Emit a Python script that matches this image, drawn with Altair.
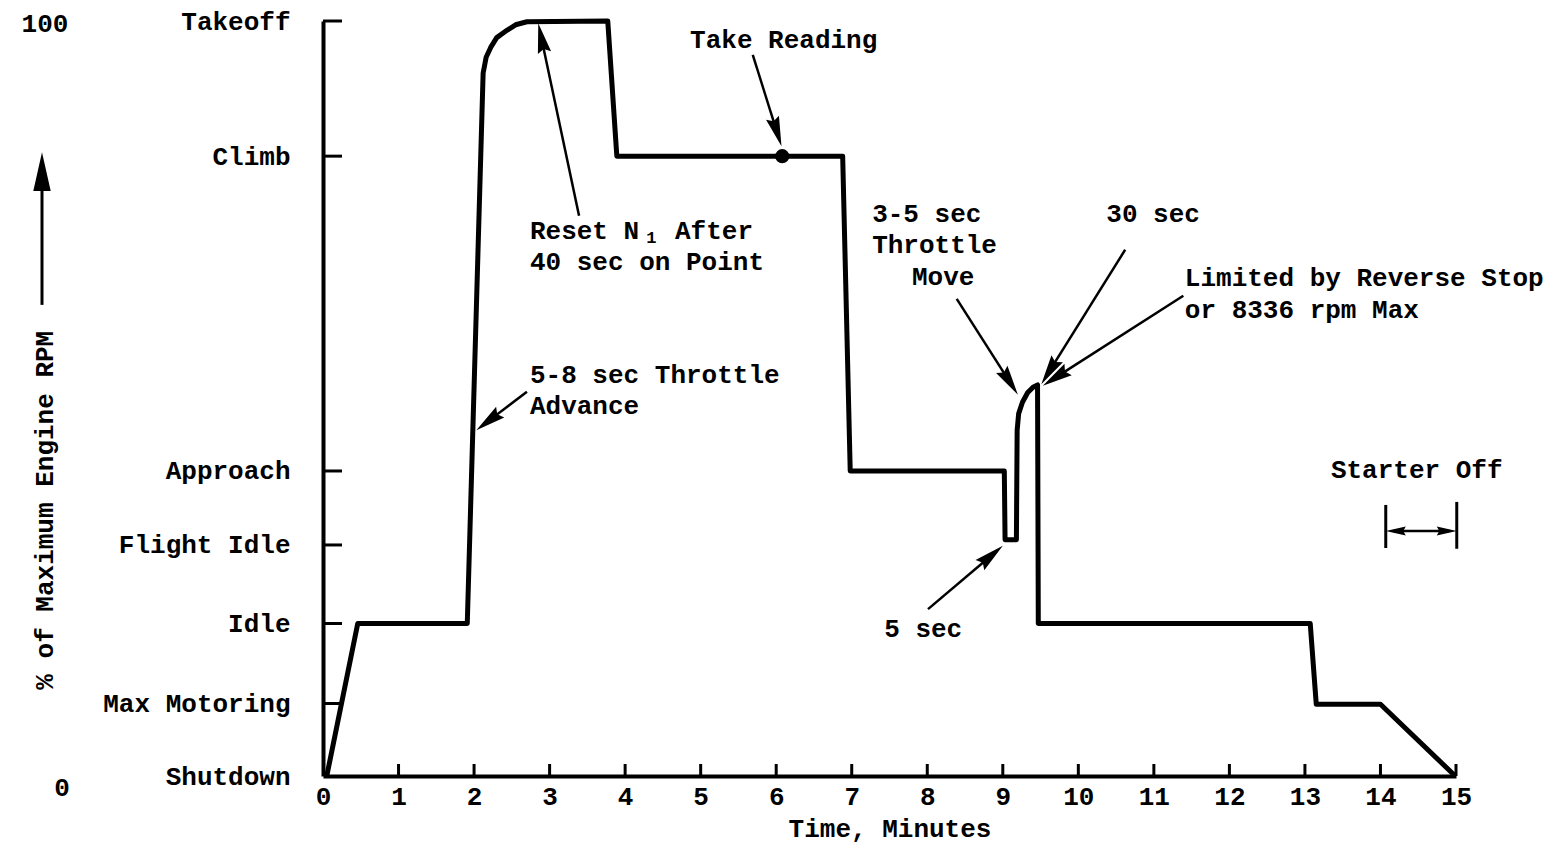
import math
import altair as alt
import pandas as pd

# ---------------- layout constants ----------------
W, H = 1133, 755
T_MAX, V_MAX = 15, 100
PX_T = W / T_MAX
PX_V = H / V_MAX
FONT = "Liberation Mono"
FS = 26

# ---------------- data ----------------
level_names = ["Shutdown", "Max Motoring", "Idle", "Flight Idle", "Approach", "Climb", "Takeoff"]
level_values = [0, 9.6, 20.2, 30.6, 40.4, 82.1, 100]

curve_t = [0.05, 0.46, 1.91, 2.12, 2.16, 2.22, 2.30, 2.44, 2.55, 2.70, 3.77, 3.89,
           6.88, 6.98, 9.02, 9.03, 9.18, 9.19, 9.21, 9.26, 9.33, 9.40, 9.46, 9.47,
           13.07, 13.15, 14.00, 14.99]
curve_v = [0, 20.2, 20.2, 93.1, 95.2, 96.5, 97.8, 98.8, 99.5, 99.9, 100, 82.1,
           82.1, 40.4, 40.4, 31.3, 31.3, 45.8, 48.0, 49.5, 50.8, 51.5, 51.8, 20.2,
           20.2, 9.5, 9.5, 0]

x_ticks = list(range(0, 16))

reading_t = [6.08]
reading_v = [82.1]

# left aligned annotation text
left_text = ["Take Reading", "Reset N", "After", "40 sec on Point", "5-8 sec Throttle", "Advance",
             "3-5 sec", "Throttle", "Limited by Reverse Stop", "or 8336 rpm Max", "5 sec"]
left_t = [4.86, 2.74, 4.66, 2.74, 2.74, 2.74, 7.27, 7.27, 11.41, 11.41, 7.43]
left_v = [97.5, 72.2, 72.2, 68.1, 53.1, 49.0, 74.4, 70.3, 66.0, 61.7, 19.5]

center_text = ["Move", "30 sec", "Starter Off"]
center_t = [8.21, 10.99, 14.48]
center_v = [66.1, 74.4, 40.5]

sub_text = ["1"]
sub_t = [4.28]
sub_v = [71.3]

# annotation arrows: start -> tip
arrow_t1 = [5.69, 3.39, 2.70, 8.39, 10.62, 11.39, 8.01]
arrow_v1 = [95.5, 74.2, 50.9, 63.2, 69.7, 63.6, 22.1]
arrow_t2 = [6.07, 2.85, 2.03, 9.20, 9.51, 9.53, 9.00]
arrow_v2 = [83.4, 99.7, 45.8, 50.5, 51.9, 51.7, 30.5]

# starter-off interval
starter_t = [14.07, 15.01]
starter_lo = [30.2, 30.1]
starter_hi = [35.9, 36.3]
starter_v = [32.45]

# ---------------- derived tables ----------------
curve_df = pd.DataFrame({"t": curve_t, "v": curve_v, "i": range(len(curve_t))})
levels_df = pd.DataFrame({"v": level_values, "name": level_names})
ticks_df = pd.DataFrame({"t": x_ticks[1:]})
reading_df = pd.DataFrame({"t": reading_t, "v": reading_v})
left_df = pd.DataFrame({"t": left_t, "v": left_v, "txt": left_text})
center_df = pd.DataFrame({"t": center_t, "v": center_v, "txt": center_text})
sub_df = pd.DataFrame({"t": sub_t, "v": sub_v, "txt": sub_text})

HEAD = "M0,0L-0.45,2L0,1.75L0.45,2Z"
HEAD_LEN = 30

rows = []
for t1, v1, t2, v2 in zip(arrow_t1, arrow_v1, arrow_t2, arrow_v2):
    dx = (t2 - t1) * PX_T
    dy = (v2 - v1) * PX_V
    L = math.hypot(dx, dy)
    ang = math.degrees(math.atan2(dx, dy)) % 360
    back = 0.5 * HEAD_LEN / L
    rows.append({"t1": t1, "v1": v1, "t2": t2, "v2": v2,
                 "te": t2 - (t2 - t1) * back, "ve": v2 - (v2 - v1) * back, "ang": ang})
arrows_df = pd.DataFrame(rows)

starter_bars_df = pd.DataFrame({"t": starter_t, "lo": starter_lo, "hi": starter_hi})
starter_line_df = pd.DataFrame({"t1": [starter_t[0] + 0.1], "t2": [starter_t[1] - 0.1], "v": starter_v})
starter_heads_df = pd.DataFrame({"t": starter_t, "v": starter_v * 2, "ang": [270, 90]})

label_expr = " : ".join(
    [f"datum.value == {v} ? '{n}'" for v, n in zip(level_values, level_names)]
) + " : ''"

xs = alt.Scale(domain=[0, T_MAX], nice=False, zero=False)
ys = alt.Scale(domain=[0, V_MAX], nice=False, zero=False)

base_axis = dict(domainColor="black", domainWidth=4, ticks=False, grid=False, labelLimit=500,
                 labelFont=FONT, labelFontSize=FS, labelFontWeight="bold", labelColor="black")

curve = alt.Chart(curve_df).mark_line(color="black", strokeWidth=5, strokeJoin="round").encode(
    x=alt.X("t:Q", scale=xs,
            axis=alt.Axis(values=x_ticks, format="d", labelPadding=7, title="Time, Minutes",
                          titleFont=FONT, titleFontSize=FS, titleFontWeight="bold",
                          titleColor="black", titlePadding=6, labelFlush=False, **base_axis)),
    y=alt.Y("v:Q", scale=ys,
            axis=alt.Axis(values=level_values, labelExpr=label_expr, labelPadding=33,
                          title=None, labelFlush=False, **base_axis)),
    order="i:O",
)

ytick_marks = alt.Chart(levels_df[levels_df.v > 0]).mark_rule(color="black", strokeWidth=3).encode(
    x=alt.value(0), x2=alt.value(19), y=alt.Y("v:Q", scale=ys)
)
xtick_marks = alt.Chart(ticks_df).mark_rule(color="black", strokeWidth=3).encode(
    x=alt.X("t:Q", scale=xs), y=alt.value(H), y2=alt.value(H - 12)
)

dot = alt.Chart(reading_df).mark_circle(color="black", size=200, opacity=1).encode(
    x=alt.X("t:Q", scale=xs), y=alt.Y("v:Q", scale=ys)
)

txt_kw = dict(font=FONT, fontSize=FS, fontWeight="bold", color="black", baseline="middle")
left_layer = alt.Chart(left_df).mark_text(align="left", **txt_kw).encode(
    x=alt.X("t:Q", scale=xs), y=alt.Y("v:Q", scale=ys), text="txt:N")
center_layer = alt.Chart(center_df).mark_text(align="center", **txt_kw).encode(
    x=alt.X("t:Q", scale=xs), y=alt.Y("v:Q", scale=ys), text="txt:N")
sub_layer = alt.Chart(sub_df).mark_text(align="left", font=FONT, fontSize=17, fontWeight="bold",
                                        color="black", baseline="middle").encode(
    x=alt.X("t:Q", scale=xs), y=alt.Y("v:Q", scale=ys), text="txt:N")

shafts = alt.Chart(arrows_df).mark_rule(color="black", strokeWidth=2.5).encode(
    x=alt.X("t1:Q", scale=xs), y=alt.Y("v1:Q", scale=ys), x2="te:Q", y2="ve:Q")
heads = alt.Chart(arrows_df).mark_point(shape=HEAD, filled=True, size=900, color="black",
                                        opacity=1, strokeWidth=0).encode(
    x=alt.X("t2:Q", scale=xs), y=alt.Y("v2:Q", scale=ys), angle=alt.Angle("ang:Q", scale=None))

st_bars = alt.Chart(starter_bars_df).mark_rule(color="black", strokeWidth=3).encode(
    x=alt.X("t:Q", scale=xs), y=alt.Y("lo:Q", scale=ys), y2="hi:Q")
st_line = alt.Chart(starter_line_df).mark_rule(color="black", strokeWidth=2.5).encode(
    x=alt.X("t1:Q", scale=xs), x2="t2:Q", y=alt.Y("v:Q", scale=ys))
st_heads = alt.Chart(starter_heads_df).mark_point(shape=HEAD, filled=True, size=400, color="black",
                                                  opacity=1, strokeWidth=0).encode(
    x=alt.X("t:Q", scale=xs), y=alt.Y("v:Q", scale=ys), angle=alt.Angle("ang:Q", scale=None))

# y-axis title with arrow, and the 0 / 100 labels
ytitle_df = pd.DataFrame({"v": [35.2], "txt": ["% of Maximum Engine RPM"]})
ytitle = alt.Chart(ytitle_df).mark_text(angle=270, align="center", **txt_kw).encode(
    x=alt.value(45 - 323), y=alt.Y("v:Q", scale=ys), text="txt:N")
yarrow_df = pd.DataFrame({"v1": [62.4], "v2": [80.0], "tip": [82.6]})
yarrow_shaft = alt.Chart(yarrow_df).mark_rule(color="black", strokeWidth=3).encode(
    x=alt.value(42 - 323), y=alt.Y("v1:Q", scale=ys), y2="v2:Q")
yarrow_head = alt.Chart(yarrow_df).mark_point(shape="M0,0L-0.45,2L0.45,2Z", filled=True, size=1500,
                                              color="black", opacity=1, strokeWidth=0).encode(
    x=alt.value(42 - 323), y=alt.Y("tip:Q", scale=ys))
pct_df = pd.DataFrame({"v": [100, 0], "txt": ["100", "0"]})
pct100 = alt.Chart(pct_df.iloc[[0]]).mark_text(align="center", dy=3, **txt_kw).encode(
    x=alt.value(45 - 323), y=alt.Y("v:Q", scale=ys), text="txt:N")
pct0 = alt.Chart(pct_df.iloc[[1]]).mark_text(align="center", dy=12, **txt_kw).encode(
    x=alt.value(62 - 323), y=alt.Y("v:Q", scale=ys), text="txt:N")

chart = alt.layer(
    curve, ytick_marks, xtick_marks, dot, left_layer, center_layer, sub_layer,
    shafts, heads, st_bars, st_line, st_heads, ytitle, yarrow_shaft, yarrow_head, pct100, pct0
).properties(
    width=W, height=H,
    autosize=alt.AutoSizeParams(type="none"),
    padding={"left": 315, "top": 13, "right": 100, "bottom": 70},
    background="white",
).configure_view(stroke=None)

chart.save("out.html", embed_options={"renderer": "svg", "actions": False})
